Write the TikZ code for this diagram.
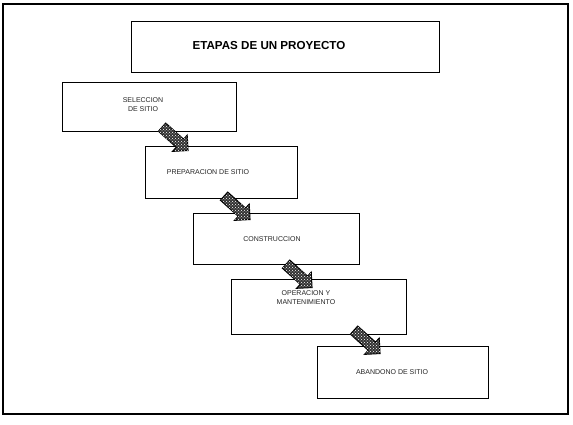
\documentclass[tikz,border=0pt]{standalone}
\usepackage{fontspec}
\setmainfont{Liberation Sans}
\usetikzlibrary{shapes.arrows,patterns,calc}
\begin{document}
\begin{tikzpicture}[x=1pt,y=-1pt,
  stagebox/.style={draw=black, line width=0.8pt, inner sep=0pt, anchor=north west},
  stagetext/.style={font=\fontsize{7}{9}\selectfont, text=black!85, align=center},
  flowarrow/.style={single arrow, draw=black, line width=1pt, fill=black!80,
    postaction={pattern=crosshatch dots, pattern color=white},
    inner sep=5pt, minimum height=35pt, single arrow head extend=5.5pt,
    single arrow head indent=0pt, rotate=-42}]
\useasboundingbox (0,0) rectangle (573,425);
\fill[white] (0,0) rectangle (573,425);
\node[draw=black, line width=1.7pt, inner sep=0pt, anchor=north west,
  minimum width=565pt, minimum height=410pt] (frame) at (2,3) {};
% title
\node[draw=black, line width=0.8pt, inner sep=0pt, anchor=north west,
  minimum width=308pt, minimum height=51pt] (title) at (131,21) {};
\node[font=\fontsize{11.6}{13}\selectfont\bfseries] (tt) at (269,46) {ETAPAS DE UN PROYECTO};
% stages
\node[stagebox, minimum width=174pt, minimum height=49pt] (b1) at (62,82) {};
\node[stagetext] (t1) at (143,105) {SELECCION\\DE SITIO};
\node[stagebox, minimum width=152pt, minimum height=52pt] (b2) at (145,146) {};
\node[stagetext] (t2) at (208,172) {PREPARACION DE SITIO};
\node[stagebox, minimum width=166pt, minimum height=51pt] (b3) at (193,213) {};
\node[stagetext] (t3) at (272,239) {CONSTRUCCION};
\node[stagebox, minimum width=175pt, minimum height=55pt] (b4) at (231,279) {};
\node[stagetext] (t4) at (306,298) {OPERACION Y\\MANTENIMIENTO};
\node[stagebox, minimum width=171pt, minimum height=52pt] (b5) at (317,346) {};
\node[stagetext] (t5) at (392,372) {ABANDONO DE SITIO};
% arrows between stages
\node[flowarrow] (a1) at (173,137) {};
\node[flowarrow] (a2) at (235,206) {};
\node[flowarrow] (a3) at (297,274) {};
\node[flowarrow] (a4) at (365,340) {};
\end{tikzpicture}
\end{document}
